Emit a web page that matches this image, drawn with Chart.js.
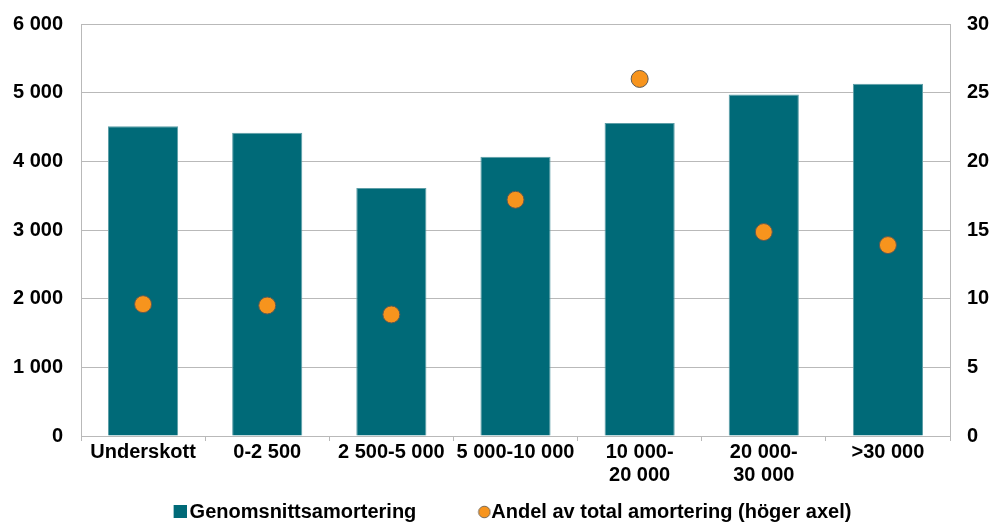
<!DOCTYPE html>
<html lang="sv">
<head>
<meta charset="utf-8">
<title>Amortering per inkomstgrupp</title>
<script src="https://cdn.jsdelivr.net/npm/chart.js@4.4.1/dist/chart.umd.min.js"></script>
<style>
  html, body { margin: 0; padding: 0; background: #ffffff; }
  #wrap { position: relative; width: 992px; height: 522px; }
</style>
</head>
<body>
<div id="wrap"><canvas id="chart" width="992" height="522"></canvas></div>
<script>
// Kategorier (inkomstintervall, kr)
const categories = [
  'Underskott',
  '0-2 500',
  '2 500-5 000',
  '5 000-10 000',
  ['10 000-', '20 000'],
  ['20 000-', '30 000'],
  '>30 000'
];

// Genomsnittlig amortering, kr (vänster axel)
const avgAmortisation = [4510, 4415, 3610, 4065, 4560, 4975, 5130];

// Andel av total amortering, procent (höger axel)
const shareOfTotal = [9.6, 9.5, 8.85, 17.2, 26.0, 14.85, 13.9];

// Axelgränser och steg
const leftTicks = { min: 0, max: 6000, step: 1000 };
const rightTicks = { min: 0, max: 30, step: 5 };

const seriesNames = ['Genomsnittsamortering', 'Andel av total amortering (höger axel)'];

const TEAL = '#006a78';
const ORANGE = '#f7941d';
const GRID = '#b9b9b9';
const FONT = { family: "'Liberation Sans', Arial, sans-serif", size: 20, weight: 'bold' };

function spaced(v) {
  return String(v).replace(/\B(?=(\d{3})+(?!\d))/g, ' ');
}

// Legend icons: drawn inside a wider transparent canvas so that the
// symbol sits just before its text.
const LEGEND_BOX = 63;
function legendIcon(kind) {
  const half = LEGEND_BOX / 2;
  const c = document.createElement('canvas');
  const ctx = c.getContext('2d');
  if (kind === 'rect') {
    // square 13 px, ending 3 px before the text
    const right = half + 10 - 3;
    c.width = Math.ceil(2 * right);
    c.height = 14;
    ctx.fillStyle = TEAL;
    const x0 = c.width / 2 + (right - 13);
    ctx.fillRect(Math.round(x0), 0, 13, 13);
  } else {
    // circle, diameter 12 px, ending 1 px before the text
    const r = 5.8;
    const cx = half + 10 - 1 - 6;
    c.width = Math.ceil(2 * (cx + r + 1));
    c.height = 14;
    ctx.beginPath();
    ctx.arc(c.width / 2 + cx, 7, r, 0, Math.PI * 2);
    ctx.fillStyle = ORANGE;
    ctx.fill();
    ctx.lineWidth = 1;
    ctx.strokeStyle = '#7a6a55';
    ctx.stroke();
  }
  return c;
}
const icons = [legendIcon('rect'), legendIcon('circle')];

// The value axes keep their labels inside the layout padding at the top.
function noEdgePadding(scale) {
  scale.paddingTop = 0;
  scale.paddingBottom = 0;
}

new Chart(document.getElementById('chart'), {
  data: {
    labels: categories,
    datasets: [
      {
        type: 'bar',
        label: seriesNames[0],
        data: avgAmortisation,
        yAxisID: 'y',
        backgroundColor: TEAL,
        borderColor: '#5d9ea7',
        borderWidth: 1,
        barPercentage: 0.565,
        categoryPercentage: 1,
        order: 2
      },
      {
        type: 'line',
        label: seriesNames[1],
        data: shareOfTotal,
        yAxisID: 'y1',
        showLine: false,
        pointStyle: 'circle',
        pointRadius: 8.5,
        pointHoverRadius: 8.5,
        pointBackgroundColor: ORANGE,
        pointBorderColor: '#5f5a52',
        pointBorderWidth: 1,
        backgroundColor: ORANGE,
        borderColor: '#5f5a52',
        order: 1
      }
    ]
  },
  options: {
    responsive: false,
    animation: false,
    devicePixelRatio: 1,
    layout: { padding: { top: 24, left: -24, right: 0, bottom: -10 } },
    plugins: {
      tooltip: { enabled: false },
      legend: {
        position: 'bottom',
        align: 'center',
        labels: {
          font: FONT,
          color: '#000000',
          usePointStyle: true,
          pointStyleWidth: LEGEND_BOX,
          padding: 2,
          sort: (a, b) => a.datasetIndex - b.datasetIndex,
          generateLabels(chart) {
            const items = Chart.defaults.plugins.legend.labels.generateLabels(chart);
            return items.map((it) => Object.assign(it, {
              pointStyle: icons[it.datasetIndex],
              lineWidth: 0
            }));
          }
        }
      }
    },
    scales: {
      x: {
        offset: true,
        grid: {
          offset: true,
          drawOnChartArea: false,
          drawTicks: true,
          tickLength: 5,
          color: GRID
        },
        border: { display: true, color: GRID, width: 1 },
        ticks: {
          font: Object.assign({}, FONT, { lineHeight: 1.15 }),
          color: '#000000',
          padding: 0,
          maxRotation: 0,
          autoSkip: false
        },
        afterFit(scale) { scale.height = 64; }
      },
      y: {
        position: 'left',
        min: leftTicks.min,
        max: leftTicks.max,
        grid: { color: GRID, drawTicks: false },
        border: { display: true, color: GRID, width: 1 },
        ticks: {
          stepSize: leftTicks.step,
          font: FONT,
          color: '#000000',
          padding: 18,
          callback: (v) => spaced(v)
        },
        afterFit(scale) { scale.width = 105; noEdgePadding(scale); }
      },
      y1: {
        position: 'right',
        min: rightTicks.min,
        max: rightTicks.max,
        grid: { drawOnChartArea: false, drawTicks: false },
        border: { display: true, color: GRID, width: 1 },
        ticks: {
          stepSize: rightTicks.step,
          font: FONT,
          color: '#000000',
          padding: 17
        },
        afterFit(scale) { scale.width = 42; noEdgePadding(scale); }
      }
    }
  }
});
</script>
</body>
</html>
